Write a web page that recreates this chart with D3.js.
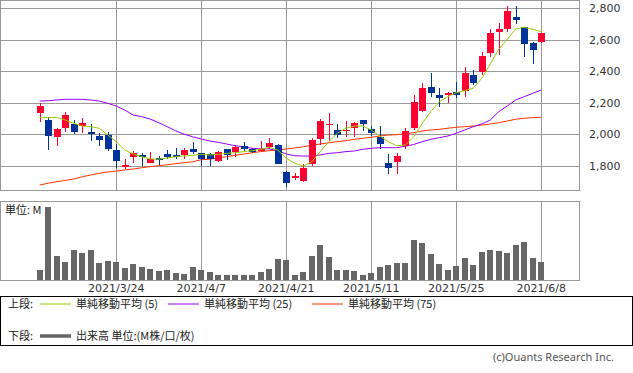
<!DOCTYPE html>
<meta charset="utf-8">
<html>
<head>
<style>
body { margin: 0; background: #fff; }
text { font-family: "DejaVu Sans", sans-serif; font-size: 11px; fill: #333; }
.jp { font-family: "Noto Sans CJK JP", sans-serif; font-size: 11px; fill: #222; }
.grid line { stroke: #999; stroke-width: 1; shape-rendering: crispEdges; }
.frame { fill: none; stroke: #999; stroke-width: 1; shape-rendering: crispEdges; }
.ma { fill: none; stroke-width: 1; }
</style>
<script src="https://cdn.jsdelivr.net/npm/d3@7"></script>
</head>
<body>
<svg width="633" height="373"></svg>
<script>
var dates = ["2021/3/11","2021/3/12","2021/3/15","2021/3/16","2021/3/17","2021/3/18","2021/3/19","2021/3/22","2021/3/23","2021/3/24",
  "2021/3/25","2021/3/26","2021/3/29","2021/3/30","2021/3/31","2021/4/1","2021/4/2","2021/4/5","2021/4/6","2021/4/7",
  "2021/4/8","2021/4/9","2021/4/12","2021/4/13","2021/4/14","2021/4/15","2021/4/16","2021/4/19","2021/4/20","2021/4/21",
  "2021/4/22","2021/4/23","2021/4/26","2021/4/27","2021/4/28","2021/4/30","2021/5/6","2021/5/7","2021/5/10","2021/5/11",
  "2021/5/12","2021/5/13","2021/5/14","2021/5/17","2021/5/18","2021/5/19","2021/5/20","2021/5/21","2021/5/24","2021/5/25",
  "2021/5/26","2021/5/27","2021/5/28","2021/5/31","2021/6/1","2021/6/2","2021/6/3","2021/6/4","2021/6/7","2021/6/8"];

var opens = [2137,2091,1985,2042,2064,2053,2017,1990,1996,1901, 1792,1859,1868,1821,1849,1878,1871,1870,1909,1880,
  1874,1834,1908,1890,1927,1909,1897,1922,1933,1762, 1732,1705,1815,1973,2064,2028,2026,2042,2091,2036,
  1985,1821,1825,1929,2042,2150,2298,2249,2249,2266, 2275,2376,2395,2517,2650,2667,2745,2678,2580,2587];
var highs = [2197,2112,2042,2144,2091,2104,2064,2007,2013,1939, 1844,1895,1884,1890,1863,1901,1914,1916,1954,1884,
  1884,1895,1908,1933,1954,1916,1958,1979,1939,1768, 1758,1813,1979,2096,2134,2066,2085,2080,2091,2053,
  2053,1876,1884,2042,2249,2323,2390,2292,2270,2333, 2428,2408,2523,2667,2707,2813,2813,2680,2587,2644];
var lows = [2080,1901,1927,2017,2001,2007,1960,1928,1895,1785, 1779,1821,1800,1817,1806,1846,1842,1844,1876,1802,
  1800,1827,1838,1859,1897,1880,1897,1906,1813,1670, 1711,1701,1802,1933,1958,1975,1985,1985,2023,1990,
  1908,1747,1747,1906,2028,2144,2239,2175,2197,2228, 2239,2313,2376,2492,2502,2650,2697,2492,2446,2577];
var closes = [2180,1992,2034,2123,2017,2072,2004,1966,1908,1834, 1806,1884,1859,1842,1838,1859,1859,1901,1890,1846,
  1842,1889,1870,1922,1908,1890,1906,1944,1815,1694, 1734,1789,1965,2085,2066,1996,2030,2070,2066,2007,
  1937,1789,1865,2022,2207,2292,2264,2228,2260,2251, 2390,2327,2496,2640,2667,2781,2724,2574,2536,2644];

// 出来高 (M)
var volumes = [1.0,7.3,2.4,1.8,3.0,2.7,3.0,1.7,1.9,1.8, 1.2,1.6,1.3,1.1,0.9,1.0,0.7,0.6,1.3,1.0,
  0.8,0.5,0.5,0.5,0.5,0.5,0.8,1.1,2.1,2.0, 0.5,0.8,2.4,3.5,2.3,1.0,1.0,0.9,0.5,0.7,
  1.3,1.5,1.7,1.7,4.0,3.7,2.6,1.6,1.0,1.4, 2.2,1.5,2.8,3.0,2.9,2.7,3.5,3.8,2.2,1.8];

var ma5 = [2108,2106,2108,2091,2070,2053,2049,2039,1996,1954, 1901,1876,1859,1844,1844,1851,1859,1863,1868,1874,
  1870,1874,1880,1884,1891,1897,1906,1918,1901,1849, 1817,1800,1827,1891,1954,2007,2039,2053,2053,2028,
  1990,1954,1928,1933,1985,2070,2144,2207,2239,2264, 2277,2292,2355,2444,2539,2602,2667,2678,2665,2650];
var ma25 = [2211,2213,2218,2222,2222,2222,2218,2211,2197,2180, 2154,2123,2112,2097,2074,2049,2022,2001,1985,1971,
  1958,1950,1939,1928,1922,1912,1909,1909,1897,1876, 1865,1863,1863,1870,1880,1884,1891,1895,1906,1912,
  1916,1916,1916,1925,1936,1954,1969,1979,1990,2007, 2028,2049,2066,2091,2144,2180,2218,2239,2260,2281];
var ma75 = [1680,1691,1701,1709,1718,1732,1743,1754,1762,1768, 1775,1781,1789,1796,1802,1808,1815,1821,1827,1840,
  1843,1851,1859,1868,1876,1884,1891,1897,1901,1908, 1914,1922,1931,1939,1947,1954,1960,1969,1975,1982,
  1990,1996,1998,2004,2011,2022,2028,2032,2039,2045, 2049,2053,2059,2066,2074,2085,2096,2102,2106,2108];

var tickDates = ["2021/3/24","2021/4/7","2021/4/21","2021/5/11","2021/5/25","2021/6/8"];
var priceTicks = [1800,2000,2200,2400,2600,2800];

var svg = d3.select("svg");
var upColor = "#ff0033", downColor = "#003399";

var x = d3.scaleBand()
    .domain(dates)
    .range([35.5, 545.5])
    .paddingInner(0.3)
    .paddingOuter(0.15);
var cx = function(d) { return x(d) + x.bandwidth() / 2; };

var y = d3.scaleLinear().domain([1800, 2800]).range([166, 8]);
var yv = d3.scaleLinear().domain([0, 7.9]).range([280, 201]);

var rows = dates.map(function(d, i) {
  return {date: d, o: opens[i], h: highs[i], l: lows[i], c: closes[i], v: volumes[i],
          m5: ma5[i], m25: ma25[i], m75: ma75[i]};
});

// grid, main panel
var grid = svg.append("g").attr("class", "grid");
grid.selectAll(".hy").data(priceTicks).enter().append("line")
    .attr("x1", 0).attr("x2", 579)
    .attr("y1", function(d) { return Math.round(y(d)) + 0.5; })
    .attr("y2", function(d) { return Math.round(y(d)) + 0.5; });
grid.selectAll(".vx").data(tickDates).enter().append("line")
    .attr("x1", function(d) { return Math.round(cx(d)) + 0.5; })
    .attr("x2", function(d) { return Math.round(cx(d)) + 0.5; })
    .attr("y1", 0).attr("y2", 190);
grid.selectAll(".vx2").data(tickDates).enter().append("line")
    .attr("x1", function(d) { return Math.round(cx(d)) + 0.5; })
    .attr("x2", function(d) { return Math.round(cx(d)) + 0.5; })
    .attr("y1", 201).attr("y2", 280);

svg.append("rect").attr("class", "frame").attr("x", 0.5).attr("y", 0.5).attr("width", 579).attr("height", 190);
svg.append("rect").attr("class", "frame").attr("x", 0.5).attr("y", 201.5).attr("width", 579).attr("height", 79);

// price labels
var fmt = d3.format(",");
svg.selectAll(".plab").data(priceTicks).enter().append("text")
    .attr("x", 589)
    .attr("y", function(d) { return y(d) + 4; })
    .text(function(d) { return fmt(d); });

// moving averages
function maLine(key) {
  return d3.line().x(function(d) { return cx(d.date); }).y(function(d) { return y(d[key]); });
}
svg.append("path").datum(rows).attr("class", "ma").attr("stroke", "#ff3300").attr("d", maLine("m75"));
svg.append("path").datum(rows).attr("class", "ma").attr("stroke", "#9900ff").attr("d", maLine("m25"));

// candles
var candle = svg.selectAll(".candle").data(rows).enter().append("g").attr("class", "candle");
candle.append("line")
    .attr("x1", function(d) { return Math.round(cx(d.date)) + 0.5; })
    .attr("x2", function(d) { return Math.round(cx(d.date)) + 0.5; })
    .attr("y1", function(d) { return y(d.h); })
    .attr("y2", function(d) { return y(d.l); })
    .attr("stroke", function(d) { return d.c >= d.o ? upColor : downColor; })
    .attr("stroke-width", 1)
    .attr("shape-rendering", "crispEdges");
candle.append("rect")
    .attr("x", function(d) { return Math.round(cx(d.date)) - 3; })
    .attr("width", 7)
    .attr("y", function(d) { return y(Math.max(d.o, d.c)); })
    .attr("height", function(d) { return Math.max(1.2, Math.abs(y(d.o) - y(d.c))); })
    .attr("fill", function(d) { return d.c >= d.o ? upColor : downColor; })
    .attr("shape-rendering", "crispEdges");

svg.append("path").datum(rows).attr("class", "ma").attr("stroke", "#99cc00").attr("d", maLine("m5"));

// volume
svg.selectAll(".vol").data(rows).enter().append("rect")
    .attr("x", function(d) { return Math.round(cx(d.date)) - 3; })
    .attr("width", 6)
    .attr("y", function(d) { return yv(d.v); })
    .attr("height", function(d) { return 280 - yv(d.v); })
    .attr("fill", "#666")
    .attr("shape-rendering", "crispEdges");

svg.append("text").attr("class", "jp").attr("x", 5).attr("y", 214).text("単位: M");

// date labels
svg.selectAll(".dlab").data(tickDates).enter().append("text")
    .attr("x", function(d) { return cx(d); })
    .attr("y", 292)
    .attr("text-anchor", "middle")
    .text(function(d) { return d; });

// legend
svg.append("rect").attr("x", 0.5).attr("y", 296.5).attr("width", 632).attr("height", 49)
    .attr("fill", "#fff").attr("stroke", "#000").attr("shape-rendering", "crispEdges");

var legendItems = [
  {x: 40, label: "単純移動平均 (5)", color: "#99cc00"},
  {x: 168, label: "単純移動平均 (25)", color: "#9900ff"},
  {x: 312, label: "単純移動平均 (75)", color: "#ff3300"}
];
svg.append("text").attr("class", "jp").attr("x", 8).attr("y", 308).text("上段:");
var lg = svg.selectAll(".lg").data(legendItems).enter().append("g");
lg.append("line")
    .attr("x1", function(d) { return d.x; }).attr("x2", function(d) { return d.x + 31; })
    .attr("y1", 304).attr("y2", 304)
    .attr("stroke", function(d) { return d.color; }).attr("stroke-width", 1);
lg.append("text").attr("class", "jp")
    .attr("x", function(d) { return d.x + 36; }).attr("y", 308)
    .text(function(d) { return d.label; });

svg.append("text").attr("class", "jp").attr("x", 8).attr("y", 340).text("下段:");
svg.append("line").attr("x1", 40).attr("x2", 71).attr("y1", 336).attr("y2", 336)
    .attr("stroke", "#666").attr("stroke-width", 3.5);
svg.append("text").attr("class", "jp").attr("x", 76).attr("y", 340).text("出来高 単位:(M株/口/枚)");

svg.append("text").attr("x", 614).attr("y", 361).attr("text-anchor", "end")
    .style("font-family", "'Noto Sans', sans-serif").style("font-size", "11px").style("fill", "#555")
    .text("(c)Ouants Research Inc.");
</script>
</body>
</html>
